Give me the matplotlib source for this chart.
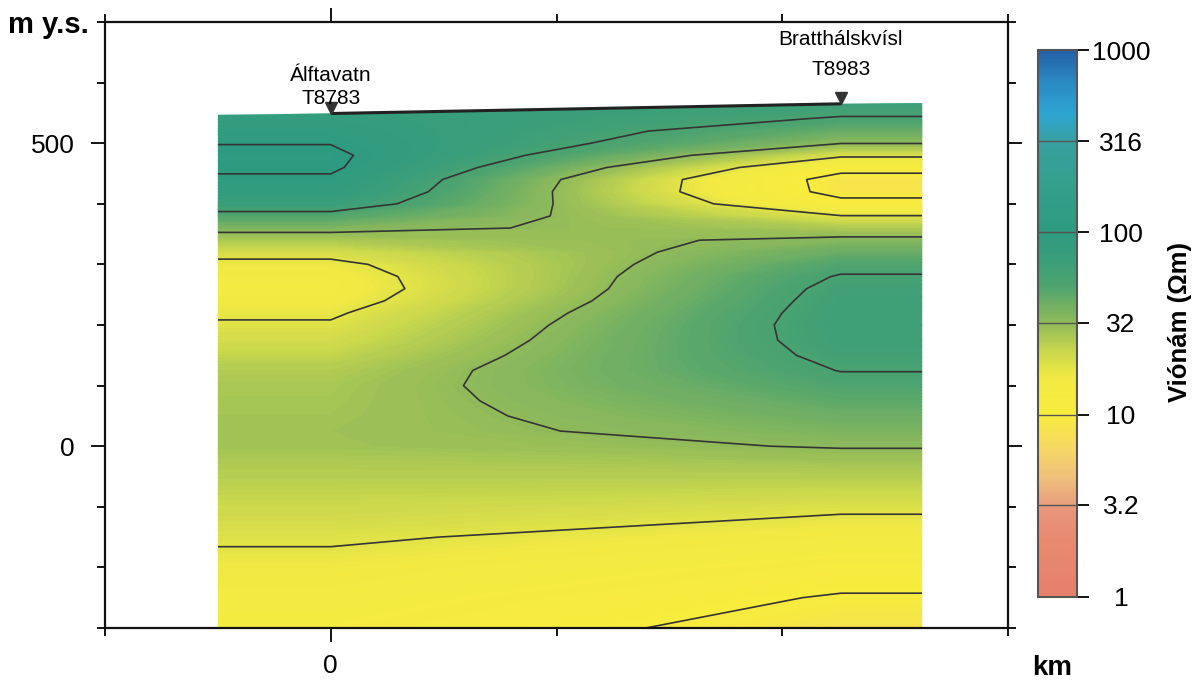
import numpy as np
import matplotlib
matplotlib.use("Agg")
import matplotlib.pyplot as plt
import matplotlib.transforms as mtransforms
from matplotlib.colors import LinearSegmentedColormap, Normalize, LogNorm
from matplotlib.cm import ScalarMappable
from matplotlib.patches import Polygon
from matplotlib.ticker import MultipleLocator

plt.rcParams['font.family'] = ['Liberation Sans', 'DejaVu Sans']

# Hæð í líkani (m y.s.)
elev = [580, 560, 540, 520, 500, 480, 460, 440, 420, 400, 380, 360, 340, 320,
        300, 280, 260, 240, 220, 200, 175, 150, 125, 100, 75, 50, 25, 0,
        -50, -100, -150, -200, -250, -300]

# Viðnám (Ohmm) undir T8783 Álftavatn
rho_t8783 = [79, 79, 83, 91, 99, 108, 106, 95, 87, 71, 49, 35.6, 26.5, 20,
             16.6, 15.1, 14.6, 15.5, 17.2, 18.6, 20.4, 22.9, 25.7, 27.2, 27.7, 28.2, 28.8, 28.5,
             24.8, 21.7, 18.9, 16.2, 14.5, 13.0]

# Viðnám (Ohmm) undir T8983 Bratthálskvísl
rho_t8983 = [69, 63, 54.3, 41.7, 32.4, 19.3, 11.6, 8.5, 8.7, 11.4, 18.2, 26.3, 34.4, 41.7,
             50.1, 57.5, 61.7, 63.8, 65.3, 66.1, 64.6, 61.0, 56.5, 50.8, 45.4, 40.6, 36.4, 32.6,
             25.0, 19.1, 15.0, 11.9, 9.7, 8.5]

# Mælistaðir
station_x = [0.0, 2.26]
station_z = [549, 565]
station_name = ["Álftavatn", "Bratthálskvísl"]
station_id = ["T8783", "T8983"]

# Jaðrar sniðsins (km)
grid_x = [-0.5, 0.0, 2.26, 2.62]

contour_levels = [10, 18, 32, 56, 100]
cbar_ticks = [1, 3.2, 10, 32, 100, 316, 1000]
cbar_labels = ["1", "3.2", "10", "32", "100", "316", "1000"]

# litaskali (viðnám -> litur)
cmap_vals = [1, 2, 3.0, 3.2, 4.5, 6.5, 10, 16, 22, 32, 50, 70, 100, 200, 316, 450, 700, 1000]
cmap_cols = ['#e6806a', '#e88a70', '#e8957a', '#e8a07e', '#efc07c', '#f5d865', '#f8ec3c',
             '#f2ea44', '#cad84c', '#90ba5a', '#50a46e', '#3a9e7a', '#2e9b80', '#34a08e',
             '#38a0a0', '#2ea6d2', '#2a86c0', '#2460a8']
cmap = LinearSegmentedColormap.from_list(
    "vidnam", list(zip(np.log10(cmap_vals) / 3.0, cmap_cols)))

fig = plt.figure(figsize=(12, 6.82), dpi=100)
ax = fig.add_axes([105 / 1200, 54 / 682, 903 / 1200, 606 / 682])

Z = np.log10(np.column_stack([rho_t8783, rho_t8783, rho_t8983, rho_t8983]))
X, Y = np.meshgrid(grid_x, elev)

norm = Normalize(0, 3)
cf = ax.contourf(X, Y, Z, levels=np.linspace(0, 3, 301), cmap=cmap, norm=norm,
                 antialiased=False)
cl = ax.contour(X, Y, Z, levels=np.log10(contour_levels), colors='#353535',
                linewidths=1.2)

# klippa við yfirborð
surf = Polygon([(grid_x[0], station_z[0] - 2), (station_x[0], station_z[0]),
                (station_x[1], station_z[1]), (grid_x[-1], station_z[1] + 1),
                (grid_x[-1], -300), (grid_x[0], -300)],
               closed=True, facecolor='none', edgecolor='none')
ax.add_patch(surf)
cf.set_clip_path(surf)
cl.set_clip_path(surf)

ax.plot(station_x, station_z, color='#222222', lw=2.2, solid_capstyle='butt')
trans = mtransforms.offset_copy(ax.transData, fig=fig, x=0, y=6, units='dots')
ax.plot(station_x, station_z, 'v', ms=9, color='#333333', transform=trans, clip_on=False)

ax.annotate(station_id[0], (station_x[0], station_z[0]), xytext=(0, 15),
            textcoords='offset pixels', ha='center', va='center', fontsize=15)
ax.annotate(station_name[0], (station_x[0], station_z[0]), xytext=(0, 38),
            textcoords='offset pixels', ha='center', va='center', fontsize=15)
ax.annotate(station_id[1], (station_x[1], station_z[1]), xytext=(0, 34),
            textcoords='offset pixels', ha='center', va='center', fontsize=15)
ax.annotate(station_name[1], (station_x[1], station_z[1]), xytext=(0, 64),
            textcoords='offset pixels', ha='center', va='center', fontsize=15)

ax.set_xlim(-1, 3)
ax.set_ylim(-300, 700)
ax.xaxis.set_major_locator(MultipleLocator(5))
ax.xaxis.set_minor_locator(MultipleLocator(1))
ax.yaxis.set_major_locator(MultipleLocator(500))
ax.yaxis.set_minor_locator(MultipleLocator(100))
ax.tick_params(which='both', direction='out', top=True, right=True, width=1.3,
               labelsize=19)
ax.tick_params(which='major', length=10)
ax.tick_params(which='minor', length=5.5)
ax.tick_params(axis='y', pad=12)
ax.tick_params(axis='x', pad=9)
for s in ax.spines.values():
    s.set_linewidth(1.6)
    s.set_color('#111111')

fig.text(8 / 1200, 1 - 33 / 682, "m y.s.", fontsize=21, fontweight='bold', va='baseline')
fig.text(1032 / 1200, 1 - 675 / 682, "km", fontsize=20, fontweight='bold', va='baseline')

# litastika
cax = fig.add_axes([1038 / 1200, 85 / 682, 39 / 1200, 547 / 682])
cb = fig.colorbar(ScalarMappable(norm=LogNorm(1, 1000), cmap=cmap), cax=cax)
cb.set_ticks(cbar_ticks)
cb.set_ticklabels(cbar_labels)
cb.minorticks_off()
cax.tick_params(length=8.6, width=1.3, pad=23, labelsize=19)
for lab in cax.get_yticklabels():
    lab.set_ha('center')
for v in cbar_ticks[1:-1]:
    cax.axhline(v, color='#555555', lw=1)
cb.outline.set_edgecolor('#555555')
cb.outline.set_linewidth(1.5)
fig.text(1180 / 1200, 1 - 322 / 682, "Viónám (Ωm)", rotation=90, ha='center',
         va='center', fontsize=18.5, fontweight='bold')

fig.savefig("out.png", dpi=100)
